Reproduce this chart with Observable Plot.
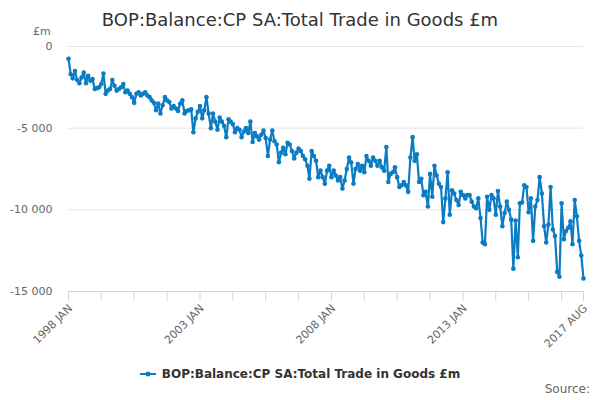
<!DOCTYPE html>
<html><head><meta charset="utf-8">
<script src="https://cdn.jsdelivr.net/npm/d3@7"></script>
<script src="https://cdn.jsdelivr.net/npm/@observablehq/plot@0.6"></script>
<style>
body{margin:0;background:#fff;font-family:"DejaVu Sans",sans-serif;}
#wrap{position:relative;width:600px;height:400px;overflow:hidden;}
#chart{position:absolute;left:0;top:0;}
#title{position:absolute;top:8px;left:0;width:600px;text-align:center;font-size:18px;color:#333;line-height:24px;}
#unit{position:absolute;left:33px;top:25px;font-size:11px;color:#666;line-height:14px;}
#legend{position:absolute;top:366px;left:0;width:600px;display:flex;justify-content:center;align-items:center;font-size:12px;font-weight:bold;color:#333;line-height:16px;}
#legend svg{margin-right:6px;}
#source{position:absolute;right:10px;top:381px;font-size:12px;color:#666;line-height:16px;}
</style></head>
<body><div id="wrap">
<div id="chart"></div>
<div id="title">BOP:Balance:CP SA:Total Trade in Goods £m</div>
<div id="unit">£m</div>
<div id="legend"><svg width="16" height="10"><line x1="0" y1="5" x2="16" y2="5" stroke="#0a7cc4" stroke-width="2"/><circle cx="8" cy="5" r="2.5" fill="#0a7cc4"/></svg><span id="legendText"></span></div>
<div id="source">Source:</div>
</div>
<script>
const seriesName = "BOP:Balance:CP SA:Total Trade in Goods £m";
const startYear = 1998;
const yTicks = [0, -5000, -10000, -15000];
const xLabelTicks = ["1998-01", "2003-01", "2008-01", "2013-01", "2017-08"];

const v1998 = [-750,-1700,-1950,-1500,-2050,-2250,-1900,-1600,-2250,-1800,-2100,-2000];
const v1999 = [-2600,-2550,-2500,-2300,-1650,-2900,-2700,-2600,-2050,-2400,-2700,-2600];
const v2000 = [-2500,-2300,-2800,-2700,-2900,-3100,-3450,-2900,-2800,-3000,-2900,-2800];
const v2001 = [-3000,-3100,-3300,-3450,-3900,-3500,-4100,-3600,-3100,-3300,-3400,-3800];
const v2002 = [-3650,-3800,-3950,-3500,-3300,-4100,-3950,-3900,-3850,-5250,-4400,-4000];
const v2003 = [-3650,-4400,-3900,-3100,-4100,-5000,-4100,-4600,-5100,-4350,-4600,-4850];
const v2004 = [-5550,-4450,-4600,-4750,-5250,-5000,-5100,-5550,-5200,-5000,-5300,-4600];
const v2005 = [-5850,-5300,-5500,-5700,-5400,-5150,-5600,-6700,-5700,-5150,-5800,-6000];
const v2006 = [-7080,-6500,-6200,-6600,-5900,-6000,-6400,-6850,-6500,-6250,-6400,-6700];
const v2007 = [-6900,-7300,-8100,-6400,-6700,-7000,-8000,-7600,-8000,-8400,-7600,-7300];
const v2008 = [-8000,-7600,-7900,-8200,-8000,-8700,-8200,-7500,-6800,-7100,-8400,-7500];
const v2009 = [-7200,-7600,-7300,-7700,-6700,-7000,-7300,-6800,-7000,-7300,-7000,-7400];
const v2010 = [-7600,-6150,-8300,-7800,-7700,-7400,-8000,-8600,-8500,-8300,-8500,-8900];
const v2011 = [-6800,-5550,-7000,-6600,-8300,-8100,-9100,-8900,-9800,-7800,-9200,-7300];
const v2012 = [-7900,-8400,-8600,-10750,-9300,-7700,-10300,-8800,-9000,-9400,-9700,-8900];
const v2013 = [-9100,-9300,-9100,-9100,-9500,-9800,-9900,-9300,-10500,-12000,-12100,-9200];
const v2014 = [-10000,-9100,-9300,-10300,-8850,-9800,-11000,-10200,-9500,-10000,-10600,-13600];
const v2015 = [-10650,-12900,-9600,-9550,-8500,-8600,-10150,-9300,-11900,-9800,-9400,-8000];
const v2016 = [-9000,-11000,-12000,-10900,-8600,-11200,-11600,-13800,-14100,-9600,-11800,-11300];
const v2017 = [-11100,-10700,-12100,-9400,-10400,-11900,-12800,-14200];

const values = [].concat(v1998,v1999,v2000,v2001,v2002,v2003,v2004,v2005,v2006,v2007,
  v2008,v2009,v2010,v2011,v2012,v2013,v2014,v2015,v2016,v2017);
const data = values.map((v, i) => ({date: new Date(Date.UTC(startYear, i, 1)), value: v}));
const start = data[0].date, end = data[data.length - 1].date;
const parseM = d3.utcParse("%Y-%m");
const labelDates = xLabelTicks.map(parseM);
const allTicks = d3.range(0, values.length, 15).map(i => data[i].date).concat([end]);
const color = "#0a7cc4";
const yFmt = v => (v < 0 ? "-" : "") + d3.format(",")(Math.abs(v)).replace(/,/g, " ");
const xFmt = d => d3.utcFormat("%Y %b")(d).toUpperCase();

document.getElementById("legendText").textContent = seriesName;

const chart = Plot.plot({
  width: 600, height: 400,
  marginTop: 46, marginBottom: 109, marginLeft: 68, marginRight: 17,
  style: {fontFamily: "DejaVu Sans, sans-serif", fontSize: "11px", color: "#666", background: "transparent", overflow: "visible"},
  x: {type: "utc", domain: [start, end]},
  y: {domain: [-15000, 0]},
  marks: [
    Plot.gridY(yTicks, {stroke: "#e6e6e6", strokeOpacity: 1}),
    Plot.axisY(yTicks, {tickSize: 0, tickPadding: 16, tickFormat: yFmt, fill: "#666", label: null}),
    Plot.ruleY([-15000], {stroke: "#ccd6eb"}),
    Plot.axisX(allTicks, {tickSize: 10, stroke: "#ccd6eb", strokeOpacity: 1, tickFormat: () => "", label: null}),
    Plot.axisX(labelDates, {tickSize: 0, tickPadding: 15, dx: 2, tickRotate: -45, tickFormat: xFmt, fill: "#666", label: null}),
    Plot.line(data, {x: "date", y: "value", stroke: color, strokeWidth: 2.2}),
    Plot.dot(data, {x: "date", y: "value", fill: color, r: 2.3})
  ]
});
document.getElementById("chart").appendChild(chart);
</script>
</body></html>
